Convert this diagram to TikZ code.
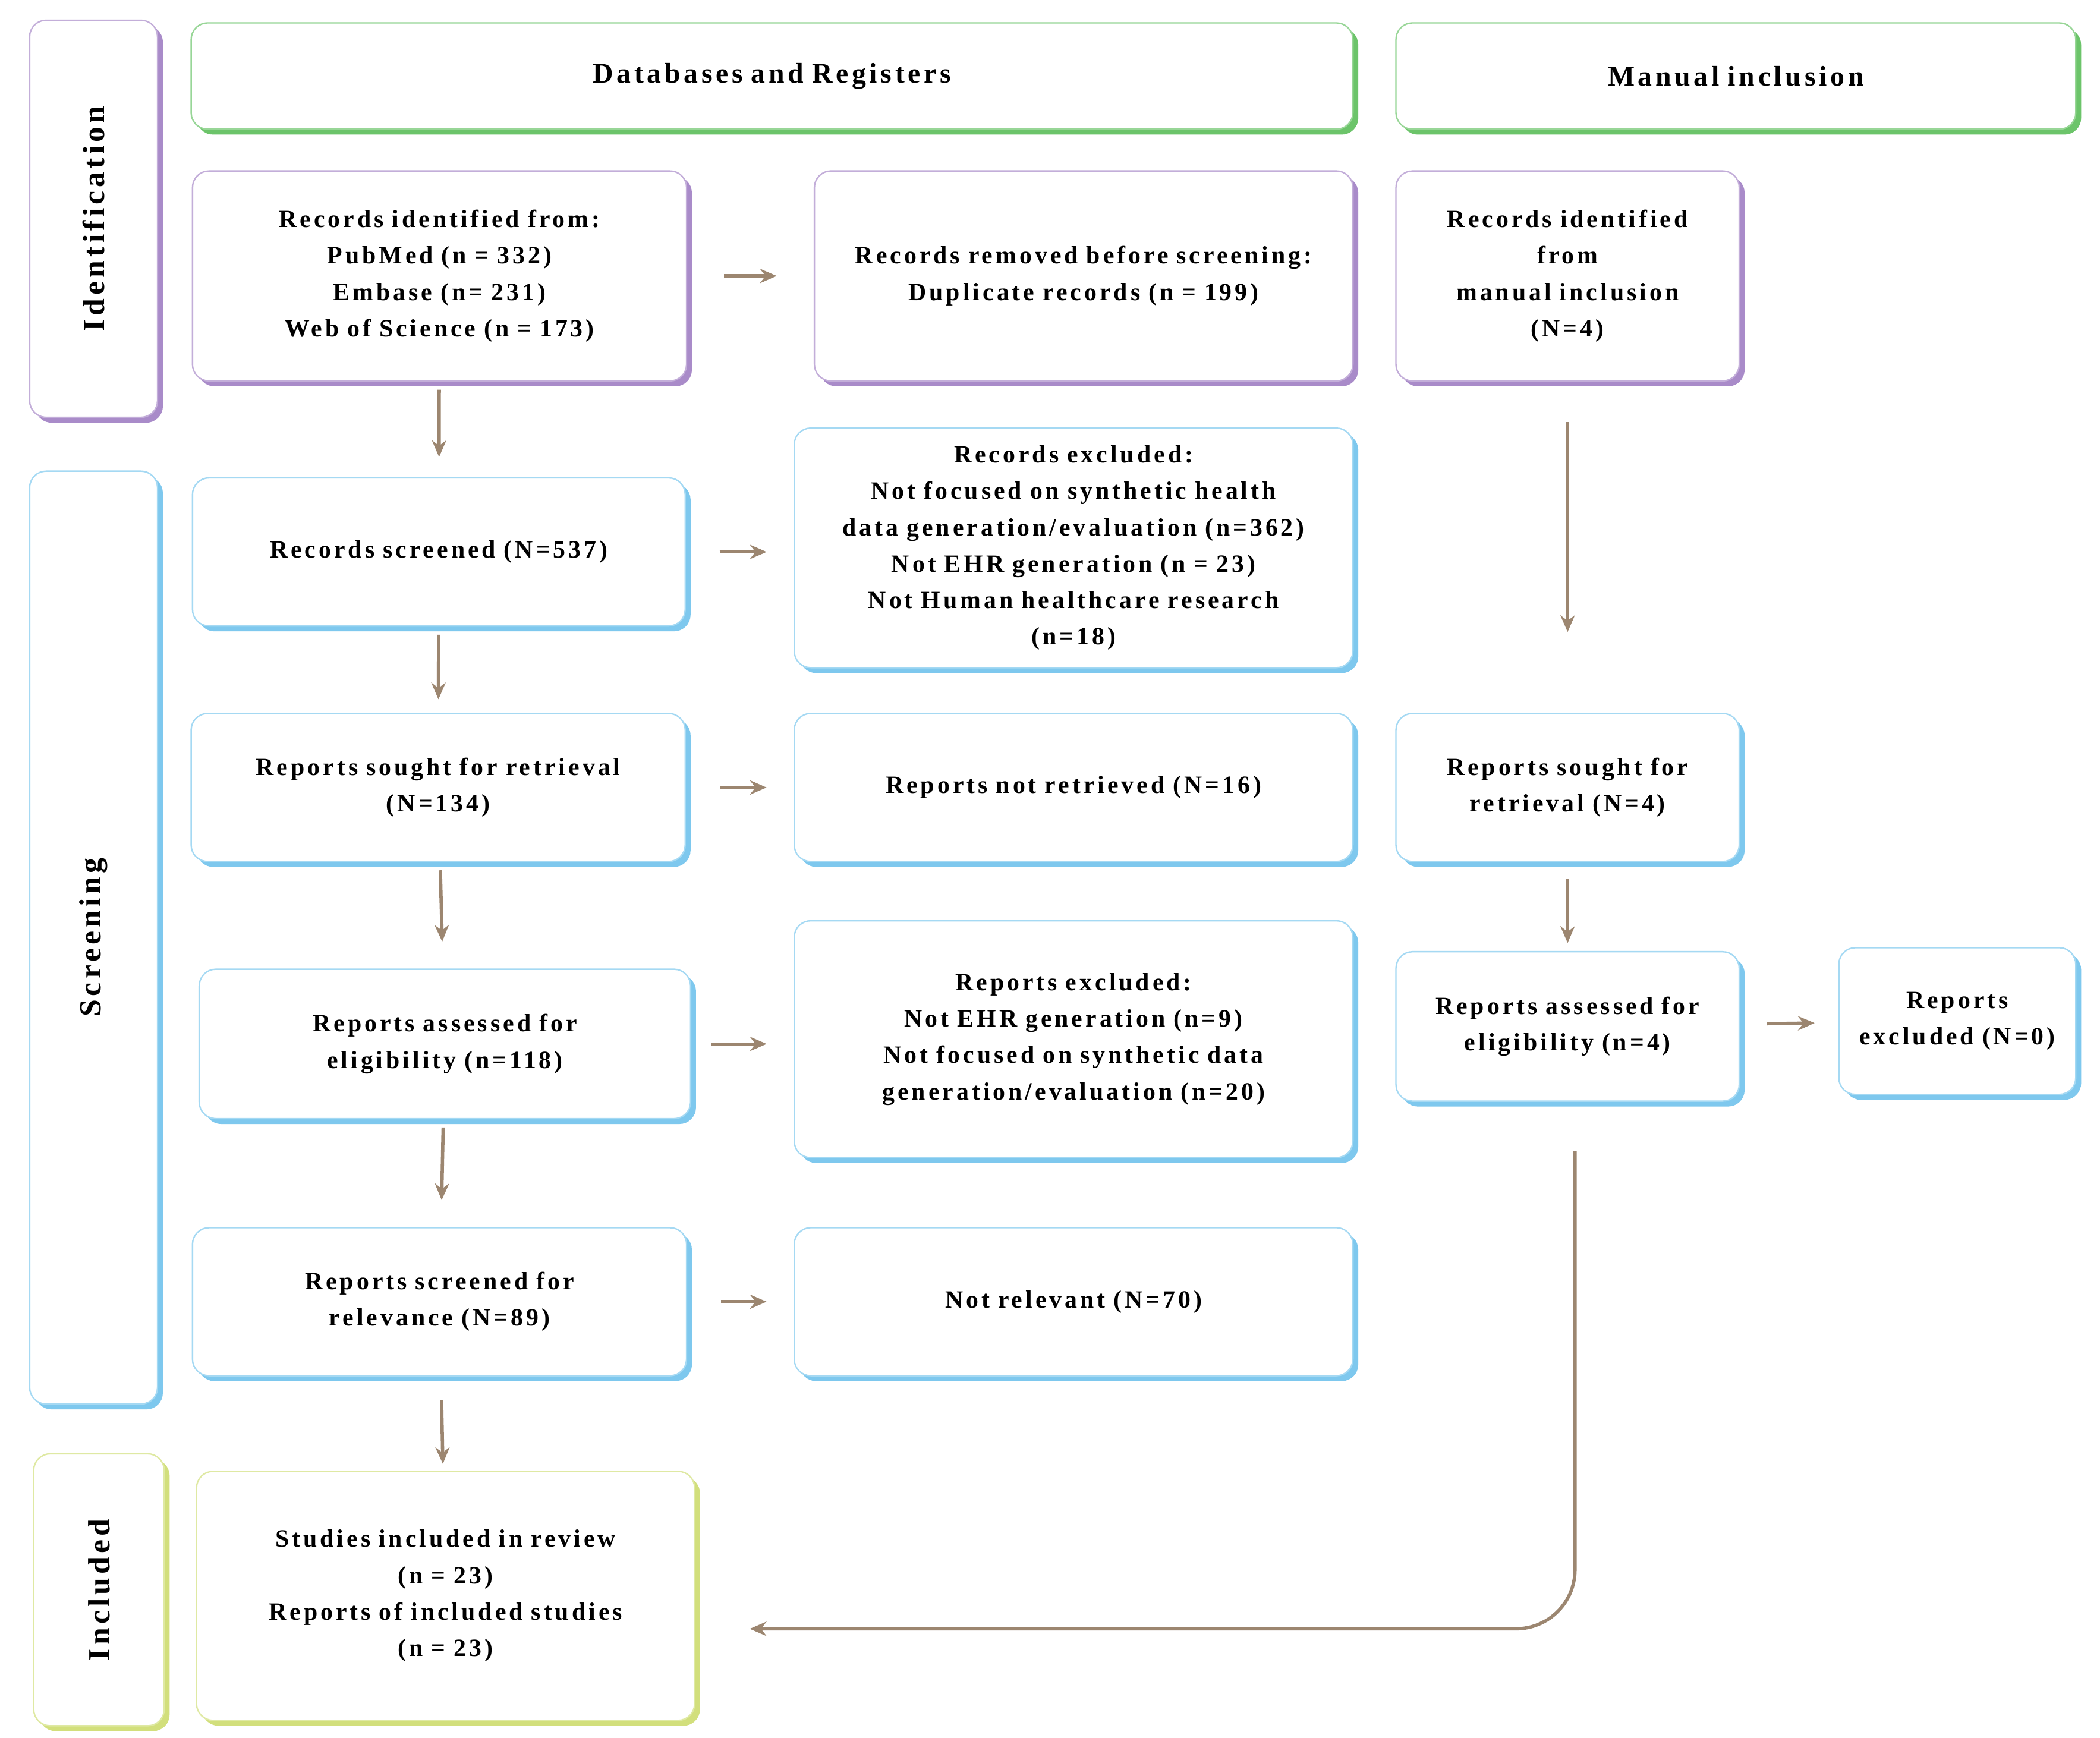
\documentclass[tikz,border=0pt]{standalone}
\usepackage{fontspec}
\setmainfont[LetterSpace=12]{Liberation Serif}
\definecolor{idpurple}{HTML}{A98BC9}
\definecolor{scblue}{HTML}{7EC8EE}
\definecolor{hdgreen}{HTML}{6CC46A}
\definecolor{inyellow}{HTML}{D2DF7C}
\definecolor{arrbrown}{HTML}{9C8670}

% box from corners: name, colour, x1, y1, x2, y2, text
\newcommand\pbox[7]{%
  \pgfmathsetmacro\bw{(#5-#3)*0.02}\pgfmathsetmacro\bh{(#6-#4)*0.02}%
  \pgfmathsetmacro\tw{\bw-0.6}%
  \fill[#2, rounded corners=7pt] (#3+4,#4+4) rectangle (#5+4,#6+4);
  \node[box, draw=#2!70, minimum width=\bw cm, minimum height=\bh cm,
    text width=\tw cm] (#1) at ({(#3+#5)/2},{(#4+#6)/2}) {#7};}

\tikzset{
  box/.style={fill=white, rounded corners=7pt, line width=0.6pt, align=center,
    inner sep=0pt, font=\fontsize{10.5}{15.4}\selectfont\bfseries},
  lanetxt/.style={rotate=90, font=\fontsize{13}{16}\selectfont\bfseries},
  arr/.style={-{Stealth[length=7pt,width=6pt]}, draw=arrbrown, line width=1.4pt}
}
\usetikzlibrary{arrows.meta}

\begin{document}
\begin{tikzpicture}[x=0.02cm, y=-0.02cm]
\useasboundingbox (0,0) rectangle (1560,1291);
\fill[white] (0,0) rectangle (1560,1291);

% lanes and headers
\pbox{laneid}{idpurple}{22}{15}{117}{310}{}
\node[lanetxt] (tid) at (laneid) {Identification};
\pbox{lanesc}{scblue}{22}{350}{117}{1043}{}
\node[lanetxt] (tsc) at (lanesc) {Screening};
\pbox{lanein}{inyellow}{25}{1080}{122}{1282}{}
\node[lanetxt] (tin) at (lanein) {Included};
\pbox{hdb}{hdgreen}{142}{17}{1005}{96}{\fontsize{12}{16}\selectfont Databases and Registers}
\pbox{hman}{hdgreen}{1037}{17}{1542}{96}{\fontsize{12}{16}\selectfont Manual inclusion}

% identification
\pbox{recid}{idpurple}{143}{127}{510}{283}{Records identified from:\\PubMed (n = 332)\\Embase (n= 231)\\Web of Science (n = 173)}
\pbox{removed}{idpurple}{605}{127}{1005}{283}{Records removed before screening:\\Duplicate records (n = 199)}
\pbox{manid}{idpurple}{1037}{127}{1292}{283}{Records identified\\from\\manual inclusion\\(N=4)}

% screening
\pbox{screened}{scblue}{143}{355}{509}{465}{Records screened (N=537)}
\pbox{excla}{scblue}{590}{318}{1005}{496}{Records excluded:\\Not focused on synthetic health\\data generation/evaluation (n=362)\\Not EHR generation (n = 23)\\Not Human healthcare research\\(n=18)}
\pbox{sought}{scblue}{142}{530}{509}{640}{Reports sought for retrieval\\(N=134)}
\pbox{notret}{scblue}{590}{530}{1005}{640}{Reports not retrieved (N=16)}
\pbox{msought}{scblue}{1037}{530}{1292}{640}{Reports sought for\\retrieval (N=4)}
\pbox{assessed}{scblue}{148}{720}{513}{831}{Reports assessed for\\eligibility (n=118)}
\pbox{exclb}{scblue}{590}{684}{1005}{860}{Reports excluded:\\Not EHR generation (n=9)\\Not focused on synthetic data\\generation/evaluation (n=20)}
\pbox{massessed}{scblue}{1037}{707}{1292}{818}{Reports assessed for\\eligibility (n=4)}
\pbox{mexcl}{scblue}{1366}{704}{1542}{813}{Reports\\excluded (N=0)}
\pbox{relev}{scblue}{143}{912}{510}{1022}{Reports screened for\\relevance (N=89)}
\pbox{notrel}{scblue}{590}{912}{1005}{1022}{Not relevant (N=70)}

% included
\pbox{incl}{inyellow}{146}{1093}{516}{1278}{Studies included in review\\(n = 23)\\Reports of included studies\\(n = 23)}

% connectors
\draw[arr, shorten <=0.12cm, shorten >=0.3cm] (recid) -- (screened);
\draw[arr, shorten <=0.12cm, shorten >=0.2cm] (screened) -- (sought);
\draw[arr, shorten <=0.12cm, shorten >=0.4cm] (sought) -- (assessed);
\draw[arr, shorten <=0.12cm, shorten >=0.4cm] (assessed) -- (relev);
\draw[arr, shorten <=0.35cm, shorten >=0.1cm] (relev) -- (incl);
\draw[arr, shorten <=0.55cm, shorten >=0.55cm] (recid) -- (removed);
\draw[arr, shorten <=0.5cm, shorten >=0.4cm] (screened.east) -- (screened.east -| excla.west);
\draw[arr, shorten <=0.5cm, shorten >=0.4cm] (sought) -- (notret);
\draw[arr, shorten <=0.3cm, shorten >=0.4cm] (assessed.east) -- (assessed.east -| exclb.west);
\draw[arr, shorten <=0.5cm, shorten >=0.4cm] (relev) -- (notrel);
\draw[arr, shorten <=0.6cm, shorten >=1.2cm] (manid) -- (msought);
\draw[arr, shorten <=0.25cm, shorten >=0.12cm] (msought) -- (massessed);
\draw[arr, shorten <=0.4cm, shorten >=0.35cm] (massessed) -- (mexcl);
\coordinate (mcorner) at (1170,1210);
\draw[arr, rounded corners=25pt, shorten <=0.74cm] (1170,818) -- (mcorner) -- (557,1210);
\end{tikzpicture}
\end{document}
